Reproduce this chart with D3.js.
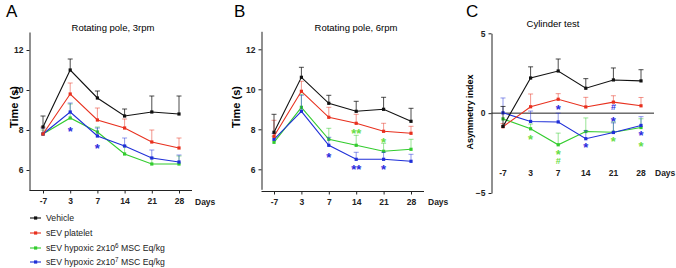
<!DOCTYPE html>
<html>
<head>
<meta charset="utf-8">
<script src="https://cdn.jsdelivr.net/npm/d3@7"></script>
<style>
  body { margin: 0; background: #fff; }
  svg { display: block; font-family: "Liberation Sans", Arial, sans-serif; }
</style>
</head>
<body>
<svg id="chart" width="676" height="268"></svg>
<script>
// ---- data ----
const days = ["-7", "3", "7", "14", "21", "28"];
const seriesNames = ["Vehicle", "sEV platelet", "sEV hypoxic 2x10^6 MSC Eq/kg", "sEV hypoxic 2x10^7 MSC Eq/kg"];
const seriesColors = ["#111111", "#e8301e", "#33cc2e", "#1f2fd8"];

// panel A - rotating pole 3rpm (mean, sem)
const aVehicle = [8.15, 11.0, 9.6, 8.7, 8.9, 8.8];
const aVehicleSem = [0.55, 0.55, 0.35, 0.35, 0.8, 0.9];
const aPlatelet = [7.8, 9.8, 8.5, 8.1, 7.4, 7.1];
const aPlateletSem = [0.35, 0.55, 0.6, 0.45, 0.6, 0.5];
const aHyp6 = [7.8, 8.6, 7.9, 6.8, 6.3, 6.3];
const aHyp6Sem = [0.2, 0.7, 0.25, 0.4, 0.3, 0.4];
const aHyp7 = [7.8, 8.9, 7.7, 7.2, 6.6, 6.4];
const aHyp7Sem = [0.3, 0.45, 0.4, 0.4, 0.4, 0.35];

// panel B - rotating pole 6rpm
const bVehicle = [7.85, 10.6, 9.3, 8.9, 9.0, 8.4];
const bVehicleSem = [0.9, 0.5, 0.4, 0.5, 0.6, 0.65];
const bPlatelet = [7.65, 9.9, 8.6, 8.3, 7.9, 7.8];
const bPlateletSem = [0.8, 0.5, 0.5, 0.45, 0.4, 0.35];
const bHyp6 = [7.35, 9.1, 7.5, 7.2, 6.9, 7.0];
const bHyp6Sem = [0.3, 0.65, 0.55, 0.5, 0.4, 0.5];
const bHyp7 = [7.5, 8.9, 7.2, 6.5, 6.5, 6.4];
const bHyp7Sem = [0.3, 0.8, 0.4, 0.35, 0.35, 0.35];

// panel C - cylinder test
const cVehicle = [-0.83, 2.2, 2.64, 1.56, 2.08, 2.02];
const cVehicleSem = [1.25, 0.7, 0.75, 0.6, 0.75, 0.7];
const cPlatelet = [-0.85, 0.4, 0.87, 0.39, 0.69, 0.46];
const cPlateletSem = [0.2, 0.8, 0.35, 0.6, 0.4, 0.52];
const cHyp6 = [-0.36, -0.98, -1.98, -1.15, -1.2, -0.9];
const cHyp6Sem = [0, 0.3, 0.73, 0.85, 0.65, 0.55];
const cHyp7 = [0.02, -0.52, -0.55, -1.6, -1.21, -0.77];
const cHyp7Sem = [0.93, 0.65, 0.55, 0.5, 0.6, 0.55];

// significance marks: [day, value, text, series index]
const aMarks = [["3", 8.1, "*", 3], ["7", 7.25, "*", 3]];
const bMarks = [["14", 7.95, "**", 2], ["21", 7.5, "*", 2], ["7", 6.76, "*", 3], ["14", 6.16, "**", 3], ["21", 6.16, "*", 3]];
const cMarks = [["7", 0.39, "*", 3], ["21", 0.39, "#", 3], ["21", -0.36, "*", 3], ["14", -1.98, "*", 3], ["28", -1.2, "*", 3],
                ["3", -1.48, "*", 2], ["7", -2.38, "*", 2], ["7", -2.95, "#", 2], ["21", -1.6, "*", 2], ["28", -1.9, "*", 2]];

const svg = d3.select("#chart");
const markColors = ["#111", "#e8301e", "#66dd44", "#2b2bdd"];

function drawPanel(cfg) {
  const g = svg.append("g");
  const x = d3.scalePoint().domain(days).range([cfg.x0, cfg.x1]);
  const y = d3.scaleLinear().domain(cfg.yDomain).range(cfg.yRange);

  // panel letter + title
  g.append("text").attr("x", cfg.letterX).attr("y", 17)
    .style("font-size", "17px").text(cfg.letter);
  g.append("text").attr("x", cfg.titleX).attr("y", cfg.titleY)
    .attr("text-anchor", "middle").style("font-size", "9.5px").text(cfg.title);

  // y axis
  const yAxis = g.append("g").attr("transform", `translate(${cfg.axisX},0)`)
    .call(d3.axisLeft(y).tickValues(cfg.yTicks).tickSize(3).tickSizeOuter(0));
  yAxis.select(".domain").attr("stroke", "#222");
  yAxis.selectAll("text").style("font-size", "8.5px").style("font-weight", "bold").attr("fill", "#222");
  yAxis.selectAll("line").attr("stroke", "#222");

  g.append("text")
    .attr("transform", `translate(${cfg.ylabX},${cfg.ylabY}) rotate(-90)`)
    .attr("text-anchor", "middle").style("font-size", cfg.ylabSize).style("font-weight", "bold")
    .text(cfg.ylab);

  // x axis
  if (cfg.zeroLine) {
    g.append("line").attr("x1", cfg.axisX).attr("x2", cfg.axisEnd)
      .attr("y1", y(0)).attr("y2", y(0)).attr("stroke", "#222");
    g.selectAll(".dl").data(days).enter().append("text")
      .attr("x", d => x(d)).attr("y", cfg.dayLabelY).attr("text-anchor", "middle")
      .style("font-size", "8.5px").style("font-weight", "bold").attr("fill", "#222").text(d => d);
  } else {
    const xAxis = g.append("g").attr("transform", `translate(0,${cfg.xAxisY})`)
      .call(d3.axisBottom(x).tickSize(3).tickSizeOuter(0).tickPadding(4));
    xAxis.select(".domain").attr("d", `M${cfg.axisX},0H${cfg.axisEnd}`).attr("stroke", "#222");
    xAxis.selectAll("text").style("font-size", "8.5px").style("font-weight", "bold").attr("fill", "#222");
    xAxis.selectAll("line").attr("stroke", "#222");
  }
  g.append("text").attr("x", cfg.daysX).attr("y", cfg.dayLabelY)
    .style("font-size", "8.5px").style("font-weight", "bold").attr("fill", "#222").text("Days");

  // series: error bars, lines, markers
  const order = [2, 3, 1, 0];
  order.forEach(si => {
    const vals = cfg.series[si], sem = cfg.sems[si], col = seriesColors[si];
    const pts = days.map((d, i) => ({d, v: vals[i], e: sem[i]}));
    const eb = g.append("g").attr("stroke", col).attr("stroke-opacity", si === 0 ? 0.75 : 0.5).attr("stroke-width", 1);
    eb.selectAll("line.v").data(pts.filter(p => p.e > 0)).enter().append("line")
      .attr("x1", p => x(p.d)).attr("x2", p => x(p.d))
      .attr("y1", p => y(p.v)).attr("y2", p => y(p.v + p.e));
    eb.selectAll("line.c").data(pts.filter(p => p.e > 0)).enter().append("line")
      .attr("x1", p => x(p.d) - 2.5).attr("x2", p => x(p.d) + 2.5)
      .attr("y1", p => y(p.v + p.e)).attr("y2", p => y(p.v + p.e));
    g.append("path").datum(pts)
      .attr("fill", "none").attr("stroke", col).attr("stroke-width", 1.1)
      .attr("d", d3.line().x(p => x(p.d)).y(p => y(p.v)));
    g.selectAll(null).data(pts).enter().append("rect")
      .attr("x", p => x(p.d) - 1.6).attr("y", p => y(p.v) - 1.6)
      .attr("width", 3.2).attr("height", 3.2).attr("fill", col);
  });

  // significance marks
  cfg.marks.forEach(m => {
    const isHash = m[2] === "#";
    g.append("text").attr("x", x(m[0])).attr("y", y(m[1]) + (isHash ? 3.5 : 7.5))
      .attr("text-anchor", "middle").attr("fill", markColors[m[3]])
      .style("font-size", isHash ? "9px" : "13px").style("font-weight", "bold")
      .text(m[2]);
  });
}

drawPanel({
  letter: "A", letterX: 6, title: "Rotating pole, 3rpm", titleX: 113, titleY: 31,
  x0: 43, x1: 179, axisX: 29.5, axisEnd: 192, xAxisY: 190.5,
  yDomain: [5, 12.9], yRange: [190, 32], yTicks: [6, 8, 10, 12],
  ylab: "Time (s)", ylabX: 18, ylabY: 107, ylabSize: "11px",
  dayLabelY: 205, daysX: 195,
  series: [aVehicle, aPlatelet, aHyp6, aHyp7], sems: [aVehicleSem, aPlateletSem, aHyp6Sem, aHyp7Sem],
  marks: aMarks
});

drawPanel({
  letter: "B", letterX: 234, title: "Rotating pole, 6rpm", titleX: 356, titleY: 31,
  x0: 274, x1: 411, axisX: 261.5, axisEnd: 424, xAxisY: 191.5,
  yDomain: [5, 12.9], yRange: [189.3, 31.3], yTicks: [6, 8, 10, 12],
  ylab: "Time (s)", ylabX: 240, ylabY: 107, ylabSize: "11px",
  dayLabelY: 205, daysX: 428,
  series: [bVehicle, bPlatelet, bHyp6, bHyp7], sems: [bVehicleSem, bPlateletSem, bHyp6Sem, bHyp7Sem],
  marks: bMarks
});

drawPanel({
  letter: "C", letterX: 466, title: "Cylinder test", titleX: 553, titleY: 27,
  x0: 503, x1: 641, axisX: 491.5, axisEnd: 654,
  yDomain: [-5, 5], yRange: [193, 33.3], yTicks: [-5, 0, 5], zeroLine: true,
  ylab: "Asymmetry index", ylabX: 473, ylabY: 112, ylabSize: "9px",
  dayLabelY: 176, daysX: 655,
  series: [cVehicle, cPlatelet, cHyp6, cHyp7], sems: [cVehicleSem, cPlateletSem, cHyp6Sem, cHyp7Sem],
  marks: cMarks
});

// legend
const legendY = [218, 233, 248, 262];
const legend = svg.append("g");
seriesNames.forEach((name, i) => {
  const row = legend.append("g").attr("transform", `translate(0,${legendY[i]})`);
  row.append("line").attr("x1", 30).attr("x2", 41).attr("stroke", seriesColors[i]).attr("stroke-width", 1.1);
  row.append("rect").attr("x", 34).attr("y", -1.6).attr("width", 3.2).attr("height", 3.2).attr("fill", seriesColors[i]);
  const t = row.append("text").attr("x", 46).attr("y", 3.3).style("font-size", "8.7px").attr("fill", "#222");
  const parts = name.split("^");
  if (parts.length === 1) {
    t.text(name);
  } else {
    t.append("tspan").text(parts[0]);
    t.append("tspan").attr("dy", -3.5).style("font-size", "6.3px").text(parts[1][0]);
    t.append("tspan").attr("dy", 3.5).text(parts[1].slice(1));
  }
});
</script>
</body>
</html>
